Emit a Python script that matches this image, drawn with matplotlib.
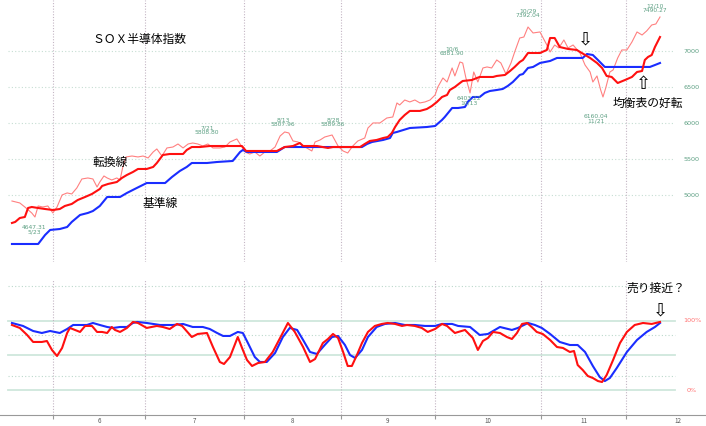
import matplotlib.pyplot as plt

plt.rcParams['font.family'] = ['Noto Sans CJK JP', 'DejaVu Sans']

# 取引日インデックス（5月中旬〜12/10）
close_day = [0.0, 1.7, 2.8, 4.3, 5.0, 5.7, 6.7, 7.8, 8.9, 9.8, 10.9, 12.0, 13.0, 14.1, 15.2, 16.5,
             17.6, 18.5, 19.1, 20.0, 20.7, 21.7, 22.8, 23.5, 24.1, 24.8, 26.1, 27.4, 28.5, 29.6,
             30.7, 31.5, 32.6, 33.7, 35.0, 36.1, 37.2, 38.3, 39.3, 40.4, 41.5, 42.6, 43.7, 45.2,
             46.3, 47.4, 48.9, 50.0, 50.7, 51.7, 52.8, 53.9, 55.0, 56.1, 57.2, 58.3, 59.3, 60.2,
             61.1, 62.2, 63.0, 64.1, 65.2, 65.9, 67.0, 68.0, 69.6, 70.9, 72.0, 73.0, 74.1, 75.2,
             76.7, 77.4, 78.5, 80.0, 81.5, 82.8, 83.7, 84.3, 85.4, 86.5, 87.6, 88.7, 89.8, 90.9,
             92.0, 92.6, 93.7, 94.6, 95.7, 96.3, 97.4, 98.0, 98.7, 99.6, 100.4, 101.3, 102.4,
             103.3, 104.3, 105.4, 106.3, 107.4, 108.5, 109.3, 110.4, 111.3, 112.2, 113.3, 114.8,
             116.3, 117.0, 118.0, 118.9, 120.0, 120.9, 122.0, 123.5, 124.6, 125.7, 126.3, 127.2,
             128.0, 128.5, 129.1, 130.0, 130.7, 131.7, 132.6, 133.7, 134.8, 135.9, 137.0, 138.0,
             139.1, 140.0, 140.9]
close = [4923, 4896, 4840, 4757, 4701, 4854, 4840, 4854, 4757, 4840, 5007, 5035, 5021, 5104, 5229,
         5243, 5229, 5118, 5187, 5271, 5243, 5215, 5243, 5215, 5396, 5535, 5548, 5535, 5548, 5521,
         5604, 5646, 5548, 5660, 5673, 5715, 5660, 5715, 5729, 5715, 5687, 5715, 5660, 5660, 5673,
         5743, 5785, 5673, 5604, 5576, 5604, 5548, 5604, 5618, 5673, 5826, 5882, 5868, 5757, 5743,
         5701, 5660, 5618, 5743, 5771, 5812, 5840, 5687, 5618, 5590, 5687, 5757, 5798, 5937, 6007,
         6007, 6076, 6090, 6285, 6257, 6326, 6299, 6326, 6285, 6299, 6326, 6396, 6507, 6632, 6576,
         6771, 6660, 6854, 6840, 6632, 6424, 6715, 6576, 6771, 6785, 6771, 6882, 6840, 6687, 6840,
         6993, 7187, 7201, 7340, 7257, 7271, 7090, 6993, 7090, 7049, 7160, 7049, 7090, 6979, 6812,
         6715, 6576, 6660, 6465, 6368, 6493, 6715, 6743, 6910, 7021, 7021, 7132, 7271, 7229, 7285,
         7368, 7382, 7479]

tenkan_day = [0, 0.7, 1.7, 2.8, 3.5, 4.3, 5.7, 7.2, 8.9, 10.4, 11.5, 13, 14.3, 15.9, 17.4, 19.1,
              19.6, 20.9, 22.8, 23.9, 25, 26.3, 27.4, 29.3, 30.7, 31.5, 32.8, 34.3, 37.2, 38, 39.1,
              40.9, 43, 50, 50.9, 57.6, 59.3, 61.1, 62.6, 63.3, 66.3, 68.7, 69.8, 75.7, 76.7, 77.8,
              79.3, 80.7, 81.7, 82.6, 83.3, 84.3, 85.4, 86.5, 88.7, 90.2, 91.3, 92.4, 93.5, 94.6,
              95.2, 96.3, 97.4, 98, 100, 101.1, 101.7, 104.6, 105.4, 107.2, 108.3, 109.3, 110.4,
              111.1, 112.2, 114.8, 116.3, 117, 118, 119.1, 120.9, 122.8, 123.9, 125.7, 127.2, 128.3,
              129.3, 130.4, 131.7, 133.3, 134.8, 135.9, 137, 137.6, 138.3, 139.1, 139.8, 140.9]
tenkan = [4618, 4632, 4687, 4701, 4826, 4840, 4826, 4812, 4798, 4812, 4854, 4882, 4937, 4979, 5021,
          5090, 5132, 5160, 5187, 5243, 5285, 5326, 5368, 5368, 5396, 5451, 5562, 5576, 5576, 5632,
          5673, 5673, 5687, 5687, 5618, 5618, 5673, 5687, 5729, 5687, 5687, 5660, 5673, 5673, 5715,
          5757, 5771, 5798, 5812, 5868, 5951, 6049, 6118, 6174, 6174, 6201, 6243, 6299, 6368, 6396,
          6465, 6507, 6562, 6590, 6604, 6632, 6646, 6646, 6660, 6674, 6729, 6785, 6854, 6882, 6979,
          6979, 7021, 7187, 7187, 7062, 7035, 7021, 6979, 6910, 6840, 6771, 6660, 6646, 6562, 6604,
          6646, 6715, 6729, 6882, 6924, 6951, 7062, 7201]

kijun_day = [0, 5.7, 7.2, 8.3, 10.4, 12, 13, 14.8, 16.5, 17.6, 19.1, 20.7, 23.5, 25, 26.7, 29.3,
             33.3, 34.8, 36.5, 38, 39.1, 42.4, 44.6, 48, 49.6, 50.2, 51.1, 57.6, 59.3, 76.1, 77.2,
             78.3, 80.7, 82.2, 82.8, 83.7, 86.5, 90.2, 92, 93.5, 94.1, 95.7, 97, 98.5, 99.1, 100.2,
             101.7, 102.8, 103.9, 105.4, 106.7, 107.8, 108.9, 110.4, 111.1, 112.2, 113.3, 114.8,
             117, 118.5, 124.1, 125, 126.3, 127.4, 128.9, 138.7, 139.8, 140.9]
kijun = [4326, 4326, 4451, 4521, 4534, 4562, 4632, 4729, 4757, 4784, 4854, 4979, 4979, 5035, 5090,
         5173, 5173, 5257, 5340, 5396, 5451, 5451, 5465, 5479, 5604, 5632, 5604, 5604, 5673, 5673,
         5715, 5743, 5771, 5798, 5868, 5882, 5937, 5951, 5965, 6049, 6090, 6215, 6215, 6229, 6299,
         6368, 6368, 6424, 6451, 6465, 6479, 6521, 6576, 6674, 6687, 6771, 6785, 6840, 6868, 6910,
         6910, 6965, 6951, 6882, 6785, 6785, 6812, 6840]

# オシレーター（%）
osc_red_day = [0, 1.7, 3.3, 4.6, 6.5, 7.6, 8.7, 9.8, 10.9, 12, 12.6, 13.7, 14.8, 15.9, 17.4, 18.5,
               19.6, 20.7, 21.7, 22.4, 23.5, 25, 26.3, 27.4, 29.3, 31.5, 32.8, 34.3, 35.9, 37,
               39.1, 40.4, 42.4, 43.7, 45.2, 46.1, 47.4, 48, 49.1, 50.2, 51.1, 52.2, 53.5, 55,
               56.7, 58.3, 60, 61.5, 63.3, 64.8, 65.9, 67.6, 68.7, 69.8, 70.9, 72, 73, 73.9, 75,
               76.1, 77.4, 78.9, 80.4, 81.7, 83.3, 84.8, 85.9, 87.6, 89.1, 90.4, 92, 93.5, 94.6,
               96.3, 98.5, 100.2, 101.3, 102.4, 103.5, 104.6, 106.1, 107.6, 108.7, 109.8, 110.9,
               112, 113, 114.1, 115.4, 117, 118.5, 119.8, 121.3, 122.2, 123, 124.1, 125.2, 126.3,
               127.4, 128.3, 129.3, 130.7, 132.2, 133.7, 135.4, 137.2, 139.1, 140.9]
osc_red = [94.2, 89.9, 79.7, 69.6, 69.6, 71, 58, 49.3, 60.9, 82.6, 89.9, 87, 84.1, 92.8, 92.8, 84.1,
           84.1, 82.6, 91.3, 87, 84.1, 89.9, 98.6, 97.1, 89.9, 92.8, 91.3, 88.4, 95.7, 92.8, 76.8,
           81.2, 82.6, 62.3, 40.6, 37.7, 47.8, 58, 76.8, 58, 43.5, 34.8, 39.1, 40.6, 55.1, 75.4,
           97.1, 84.1, 62.3, 40.6, 44.9, 68.1, 73.9, 81.2, 75.4, 55.1, 34.8, 34.8, 50.7, 68.1,
           84.1, 92.8, 95.7, 97.1, 95.7, 92.8, 94.2, 92.8, 89.9, 84.1, 88.4, 95.7, 92.8, 82.6,
           87, 75.4, 58, 71, 75.4, 84.1, 82.6, 76.8, 73.9, 82.6, 95.7, 97.1, 91.3, 84.1, 81.2,
           72.5, 62.3, 60.9, 55.1, 56.5, 36.2, 29, 20.3, 17.4, 13, 11.6, 21.7, 43.5, 68.1, 84.1,
           94.2, 97.1, 95.7, 98.6]

osc_blue_day = [0, 2.4, 4.6, 6.5, 8.3, 10.4, 12, 13.3, 16.3, 17.6, 19.1, 20.7, 22, 23.5, 25, 26.3,
                27.2, 29.3, 32.2, 35, 37.2, 39.3, 41.5, 43, 44.6, 45.9, 47.4, 49.1, 50.2, 51.3,
                52.8, 53.9, 55.4, 57.2, 58.9, 60.4, 62, 63.3, 64.8, 66.3, 68, 69.6, 70.9, 72.4,
                73.5, 74.6, 76.1, 77.4, 79.3, 81.1, 83.3, 85.4, 87.6, 89.8, 92, 93.5, 95.7, 97,
                99.6, 101.7, 103.5, 106.1, 108.7, 110, 112.2, 113.7, 115.2, 117, 119.1, 121.3, 123,
                124.6, 126.3, 127.8, 128.9, 130, 131.5, 133.7, 135.9, 138, 139.8, 140.9]
osc_blue = [97.1, 92.8, 85.5, 82.6, 85.5, 82.6, 88.4, 94.2, 94.2, 97.1, 94.2, 91.3, 89.9, 91.3, 91.3,
            97.1, 98.6, 97.1, 94.2, 94.2, 95.7, 91.3, 91.3, 88.4, 82.6, 78.3, 78.3, 84.1, 82.6,
            68.1, 47.8, 40.6, 40.6, 53.6, 76.8, 89.9, 87, 72.5, 55.1, 52.2, 65.2, 76.8, 78.3, 65.2,
            50.7, 46.4, 58, 76.8, 91.3, 95.7, 97.1, 94.2, 94.2, 92.8, 92.8, 95.7, 95.7, 92.8, 91.3,
            79.7, 81.2, 91.3, 87, 89.9, 97.1, 94.2, 89.9, 81.2, 69.6, 65.2, 65.2, 55.1, 34.8, 18.8,
            13, 17.4, 31.9, 55.1, 72.5, 84.1, 91.3, 97.1]

# 月の区切り（取引日インデックス）とラベル
month_bounds = [9, 29, 50.5, 71.5, 92, 115, 133.5, 156]
month_names = ['6', '7', '8', '9', '10', '11', '12']

price_levels = [5000, 5500, 6000, 6500, 7000]

# 高値・安値の注記
notes = [(4.8, 4520, '4647.31\n5/23'), (42.4, 5910, '7/21\n5808.80'),
         (58.9, 6020, '8/13\n5807.96'), (69.8, 6015, '8/28\n5889.86'),
         (95.7, 7000, '10/6\n6881.90'), (99.3, 6320, '6403.22\n10/13'),
         (112.2, 7528, '10/29\n7392.04'), (127.0, 6062, '6160.04\n11/21'),
         (139.8, 7598, '12/10\n7490.27')]

fig = plt.figure(figsize=(7.06, 4.26), dpi=100)
ax1 = fig.add_axes([0, 0.385, 1, 0.615])
ax2 = fig.add_axes([0, 0.0258, 1, 0.317])

xlim = (-2.6, 150.9)
grid_green = '#c6ded3'
label_green = '#5c9f82'
vline = '#c4b6c4'

# 上段：価格と一目均衡表
ax1.set_xlim(*xlim)
ax1.set_ylim(4076, 7715)
for p in price_levels:
    ax1.axhline(p, xmin=0.011, xmax=0.953, color=grid_green, lw=0.8, ls=(0, (1, 2)))
    ax1.text(0.979, p, str(p), transform=ax1.get_yaxis_transform(), fontsize=4.6,
             color=label_green, ha='center', va='center', family='DejaVu Sans')
for b in month_bounds[:-1]:
    ax1.axvline(b, color=vline, lw=0.8, ls=(0, (1, 1.5)))

ax1.plot(close_day, close, color='#ff8080', lw=0.8)
ax1.plot(kijun_day, kijun, color='#1a2dff', lw=1.5)
ax1.plot(tenkan_day, tenkan, color='#ff1010', lw=1.5)

for d, p, s in notes:
    ax1.text(d, p, s, fontsize=4.3, color=label_green, ha='center', va='center',
             linespacing=0.9, family='DejaVu Sans')

ax1.text(17.6, 7160, 'ＳＯＸ半導体指数', fontsize=8.5, ha='left', va='center')
ax1.text(17.6, 5465, '転換線', fontsize=8.5, ha='left', va='center')
ax1.text(28.5, 4882, '基準線', fontsize=8.5, ha='left', va='center')
ax1.text(130.7, 6285, '均衡表の好転', fontsize=8.5, ha='left', va='center')
ax1.text(124.6, 7160, '⇩', fontsize=13, ha='center', va='center', family='DejaVu Sans')
ax1.text(137.2, 6549, '⇧', fontsize=13, ha='center', va='center', family='DejaVu Sans')
ax1.axis('off')

# 下段：オシレーター
ax2.set_xlim(*xlim)
ax2.set_ylim(-36.2, 159.4)
for lv in [0, 50, 100]:
    ax2.axhline(lv, xmin=0.011, xmax=0.956, color='#cfe7dc', lw=1.3)
for lv in [20, 80, 150]:
    ax2.axhline(lv, xmin=0.011, xmax=0.956, color='#bcd9cc', lw=0.8, ls=(0, (1, 2)))
for b in month_bounds[:-1]:
    ax2.axvline(b, color=vline, lw=0.8, ls=(0, (1, 1.5)))

ax2.plot(osc_blue_day, osc_blue, color='#1a2dff', lw=1.5)
ax2.plot(osc_red_day, osc_red, color='#ff1010', lw=1.5)

ax2.text(0.98, 100, '100%', transform=ax2.get_yaxis_transform(), fontsize=4.6,
         color='#ff7070', ha='center', va='center', family='DejaVu Sans')
ax2.text(0.98, 0, '0%', transform=ax2.get_yaxis_transform(), fontsize=4.6,
         color='#ff7070', ha='center', va='center', family='DejaVu Sans')
ax2.text(133.7, 147.8, '売り接近？', fontsize=8.5, ha='left', va='center')
ax2.text(141.1, 114.5, '⇩', fontsize=13, ha='center', va='center', family='DejaVu Sans')

mids = [(a + b) / 2 for a, b in zip(month_bounds[:-1], month_bounds[1:])]
ax2.set_xticks(month_bounds[:-1])
ax2.set_xticklabels([])
ax2.set_xticks(mids, labels=month_names, minor=True)
ax2.tick_params(axis='x', which='major', length=3, color='#999999', direction='out')
ax2.tick_params(axis='x', which='minor', length=0, pad=1.5, labelsize=4.5, labelcolor='#555555')
ax2.set_yticks([])
for side in ['top', 'right', 'left']:
    ax2.spines[side].set_visible(False)
ax2.spines['bottom'].set_color('#999999')
ax2.spines['bottom'].set_linewidth(0.8)
ax2.set_facecolor('none')

fig.savefig('out.png', dpi=100)
